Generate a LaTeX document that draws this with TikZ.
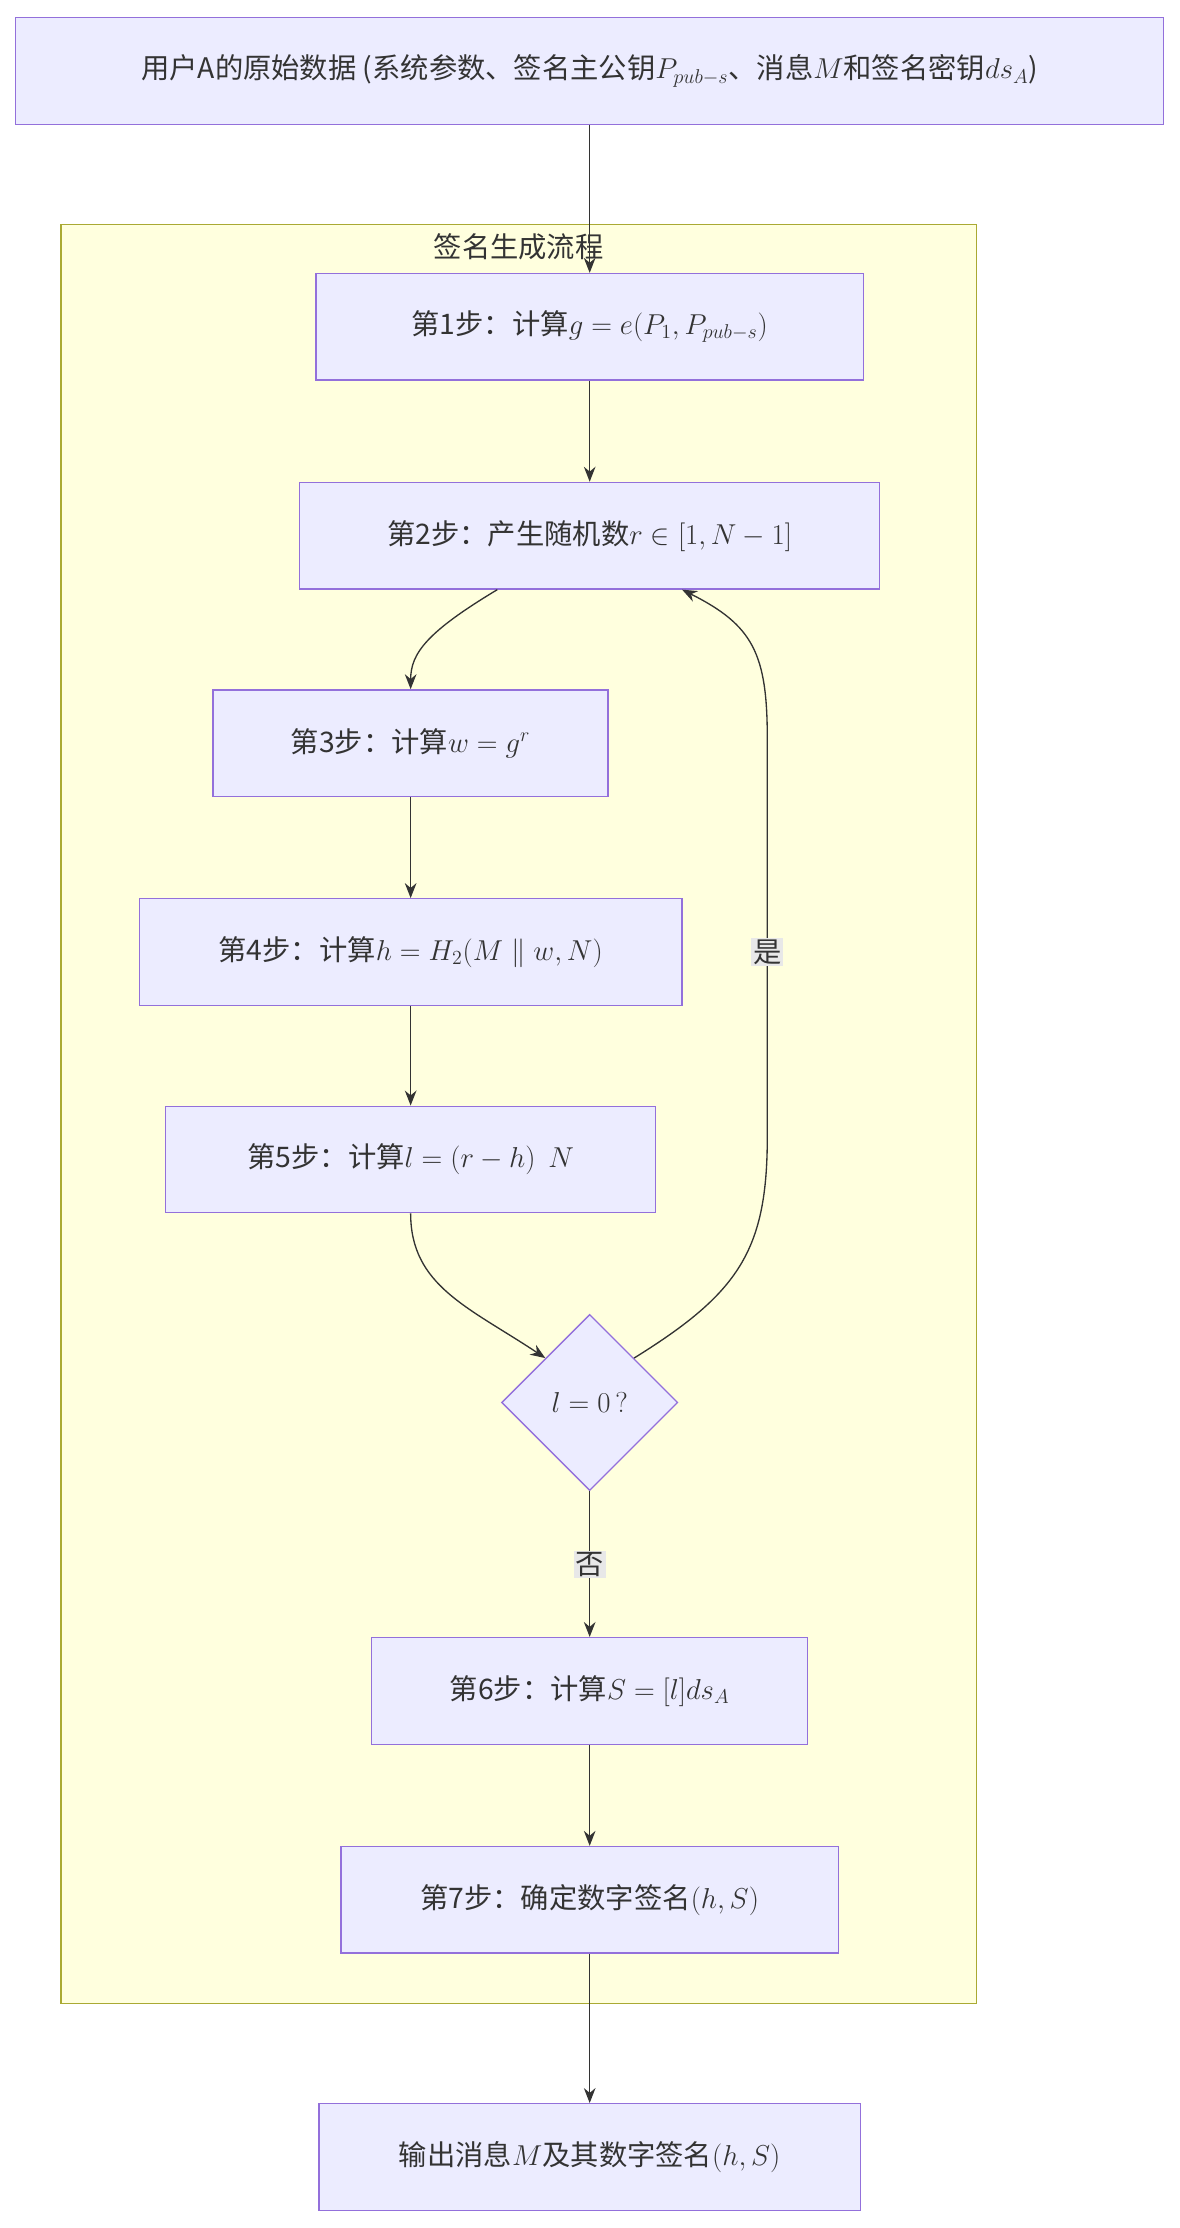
\documentclass[tikz,border=0pt]{standalone}
\usepackage{fontspec}
\usepackage{amsmath}
\setmainfont{Noto Sans CJK SC}
\usetikzlibrary{shapes.geometric,arrows.meta,calc}
\definecolor{boxfill}{HTML}{ECECFF}
\definecolor{boxline}{HTML}{9370DB}
\definecolor{clusfill}{HTML}{FFFFDE}
\definecolor{clusline}{HTML}{AAAA33}
\definecolor{edge}{HTML}{333333}
\definecolor{lblfill}{HTML}{E8E8E8}
\tikzset{
  stepbox/.style={draw=boxline,fill=boxfill,line width=0.8pt,minimum height=75*0.03cm,
    font=\fontsize{17}{20}\selectfont,text=edge},
  decide/.style={diamond,draw=boxline,fill=boxfill,line width=0.8pt,minimum width=124*0.03cm,
    minimum height=124*0.03cm,inner sep=0pt,font=\fontsize{17}{20}\selectfont,text=edge},
  link/.style={draw=edge,line width=0.8pt,-{Stealth[length=9pt,width=7pt]}},
  tag/.style={fill=lblfill,inner sep=1pt,font=\fontsize{17}{20}\selectfont,text=edge}
}
\begin{document}
\begin{tikzpicture}[x=0.03cm,y=-0.03cm]
  \useasboundingbox (0,0) rectangle (830,1568);
  % cluster
  \draw[fill=clusfill,draw=clusline,line width=0.8pt] (43,158) rectangle (687,1410);
  \node[font=\fontsize{17}{20}\selectfont,text=edge] (title) at (365,174) {签名生成流程};

  % steps
  \node[stepbox,minimum width=808*0.03cm] (data) at (415,50)
    {用户A的原始数据 (系统参数、签名主公钥$P_{pub-s}$、消息$M$和签名密钥$ds_A$)};
  \node[stepbox,minimum width=385*0.03cm] (s1) at (415,230) {第1步：计算$g=e(P_1,P_{pub-s})$};
  \node[stepbox,minimum width=408*0.03cm] (s2) at (415,377) {第2步：产生随机数$r\in[1,N-1]$};
  \node[stepbox,minimum width=278*0.03cm] (s3) at (289,523) {第3步：计算$w=g^r$};
  \node[stepbox,minimum width=382*0.03cm] (s4) at (289,670) {第4步：计算$h=H_2(M\parallel w,N)$};
  \node[stepbox,minimum width=345*0.03cm] (s5) at (289,816) {第5步：计算$l=(r-h)\ \ N$};
  \node[decide] (chk) at (415,987) {$l=0\,?$};
  \node[stepbox,minimum width=307*0.03cm] (s6) at (415,1190) {第6步：计算$S=[l]ds_A$};
  \node[stepbox,minimum width=350*0.03cm] (s7) at (415,1337) {第7步：确定数字签名$(h,S)$};
  \node[stepbox,minimum width=381*0.03cm] (out) at (415,1518) {输出消息$M$及其数字签名$(h,S)$};

  % connectors
  \draw[link] (data) -- (s1);
  \draw[link] (s1) -- (s2);
  \draw[link] ($(s2.south)+(-65,0)$) .. controls (300,445) and (289,460) .. (s3.north);
  \draw[link] (s3) -- (s4);
  \draw[link] (s4) -- (s5);
  \draw[link] (s5.south) .. controls (289,905) and (330,920) .. (chk.north west);
  \draw[link] (chk.north east) .. controls (520,910) and (540,880) .. (540,800)
    -- (540,520) .. controls (540,460) and (530,440) .. ($(s2.south)+(65,0)$);
  \draw[link] (chk) -- (s6);
  \draw[link] (s6) -- (s7);
  \draw[link] (s7) -- (out);
  \node[tag] (yes) at (540,670) {是};
  \node[tag] (no) at (415,1101) {否};
\end{tikzpicture}
\end{document}
